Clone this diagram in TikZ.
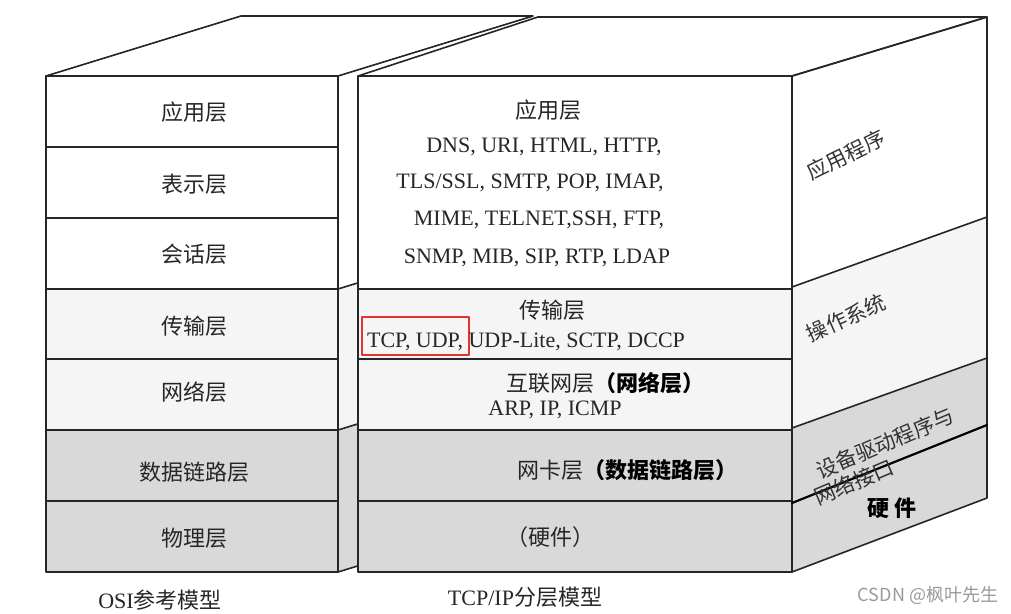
\documentclass[tikz,border=0pt]{standalone}
\usepackage{fontspec}
\setmainfont{Liberation Serif}
\newfontfamily\cjk{Noto Sans CJK SC}
\definecolor{markred}{RGB}{232,50,48}
\begin{document}
\begin{tikzpicture}[x=1pt, y=-1pt, line join=round, line cap=round,
  edge/.style={draw=black!85, line width=1.6pt},
  lbl/.style={font=\fontsize{22}{26}\selectfont, text=black!85, inner sep=0pt},
  sidelbl/.style={font=\fontsize{21}{25}\selectfont, text=black!80, inner sep=0pt}]
\useasboundingbox (0,0) rectangle (1011,613);
% OSI block
\fill[white] (46,76) rectangle (338,289);
\fill[gray!8] (46,289) rectangle (338,430);
\fill[gray!30] (46,430) rectangle (338,572);
\fill[gray!8] (338,289) -- (533,229) -- (533,370) -- (338,430) -- cycle;
\fill[gray!30] (338,430) -- (533,370) -- (533,512) -- (338,572) -- cycle;
\draw[edge] (46,76) rectangle (338,572);
\foreach \y in {147,218,289,359,430,501} \draw[edge] (46,\y) -- (338,\y);
\draw[edge] (338,289) -- (533,229) (338,430) -- (533,370) (338,572) -- (533,512);
\draw[edge, fill=white] (46,76) -- (241,16) -- (533,16) -- (338,76) -- cycle;
% TCP/IP block
\fill[white] (358,76) rectangle (792,289);
\fill[gray!8] (358,289) rectangle (792,430);
\fill[gray!30] (358,430) rectangle (792,572);
\fill[white] (792,76) -- (987,17) -- (987,217) -- (792,287) -- cycle;
\fill[gray!8] (792,287) -- (987,217) -- (987,358) -- (792,428) -- cycle;
\fill[gray!30] (792,428) -- (987,358) -- (987,498) -- (792,572) -- cycle;
\draw[edge, fill=white] (358,76) -- (538,17) -- (987,17) -- (792,76) -- cycle;
\draw[edge] (358,76) rectangle (792,572);
\foreach \y in {289,359,430,501} \draw[edge] (358,\y) -- (792,\y);
\draw[edge] (792,76) -- (987,17) -- (987,498) -- (792,572);
\draw[edge] (792,287) -- (987,217) (792,428) -- (987,358);
\draw[line width=2.2pt, black] (792,503) -- (987,425);
\draw[line width=2.6pt, markred] (362,317) rectangle (469,355);
% OSI labels
\node[lbl] (osi7) at (194,112) {\cjk 应用层};
\node[lbl] (osi6) at (194,184) {\cjk 表示层};
\node[lbl] (osi5) at (194,254) {\cjk 会话层};
\node[lbl] (osi4) at (194,326) {\cjk 传输层};
\node[lbl] (osi3) at (194,392) {\cjk 网络层};
\node[lbl] (osi2) at (194,472) {\cjk 数据链路层};
\node[lbl] (osi1) at (194,538) {\cjk 物理层};
\node[lbl] (osi) at (160,600) {OSI{\cjk 参考模型}};
% TCP/IP labels
\node[lbl] (app) at (548,110) {\cjk 应用层};
\node[lbl] (proto1) at (544,147) {DNS, URI, HTML, HTTP,};
\node[lbl] (proto2) at (530,183) {TLS/SSL, SMTP, POP, IMAP,};
\node[lbl] (proto3) at (539,220) {MIME, TELNET,SSH, FTP,};
\node[lbl] (proto4) at (537,258) {SNMP, MIB, SIP, RTP, LDAP};
\node[lbl] (trans) at (552,310) {\cjk 传输层};
\node[lbl] (transp) at (526,342) {TCP, UDP, UDP-Lite, SCTP, DCCP};
\node[lbl] (inet) at (605,383) {\cjk 互联网层{\color{black}\bfseries（网络层）}};
\node[lbl] (inetp) at (555,410) {ARP, IP, ICMP};
\node[lbl] (nic) at (627,470) {\cjk 网卡层{\color{black}\bfseries（数据链路层）}};
\node[lbl] (hw) at (550,537) {\cjk （硬件）};
\node[lbl] (tcpip) at (525,597) {TCP/IP{\cjk 分层模型}};
% side labels
\node[sidelbl, rotate=26] (sapp) at (846,155) {\cjk 应用程序};
\node[sidelbl, rotate=24] (sos) at (846,318) {\cjk 操作系统};
\node[sidelbl, rotate=23] (sdrv) at (885,443) {\cjk 设备驱动程序与};
\node[sidelbl, rotate=23] (snet) at (854,482) {\cjk 网络接口};
\node[lbl, text=black] (shw) at (892,508) {\cjk\bfseries 硬\hspace{6pt}件};
\node[lbl, text=black!40, font=\fontsize{18}{22}\selectfont] (mark) at (928,595) {\cjk CSDN @枫叶先生};
\end{tikzpicture}
\end{document}
